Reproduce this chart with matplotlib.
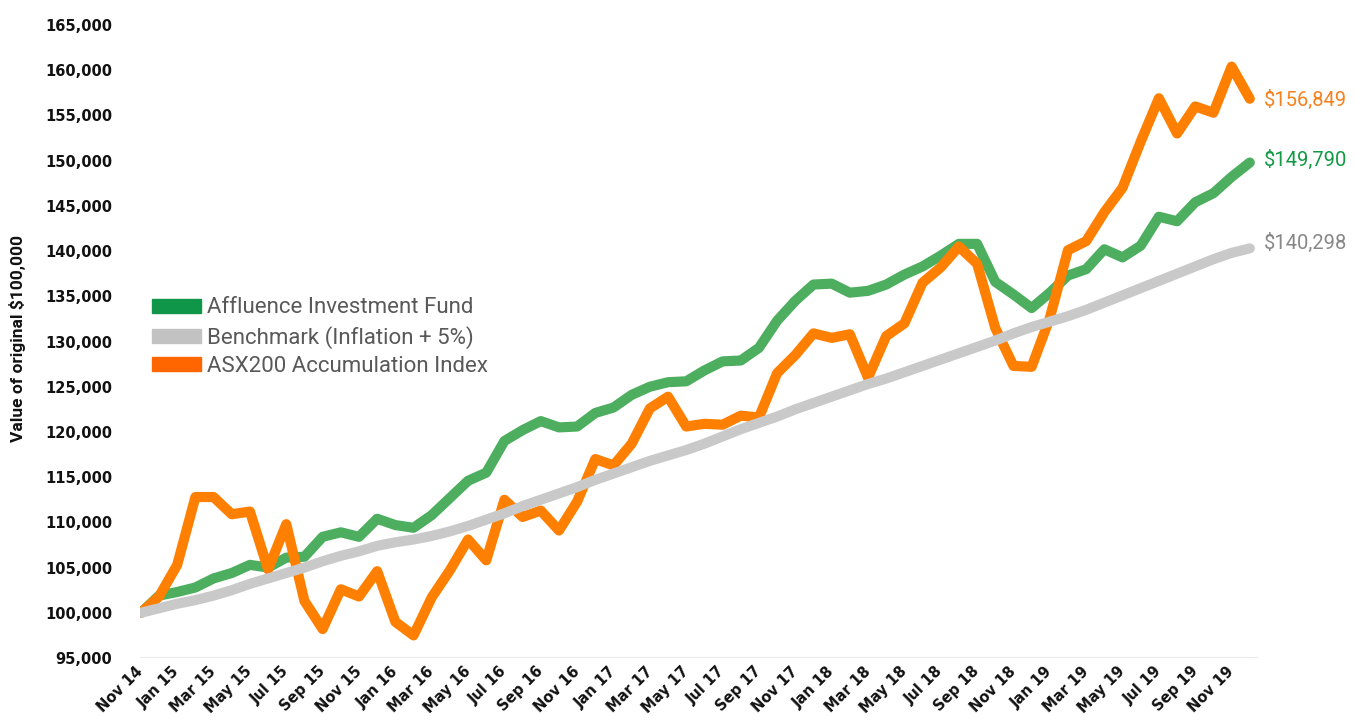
#!/usr/bin/env python3
"""
Growth of $100,000: Affluence Investment Fund vs benchmark vs ASX200
Monthly values, Nov 2014 - Dec 2019
"""

import matplotlib
matplotlib.use("Agg")
import matplotlib.patches as mpatches
import matplotlib.pyplot as plt
from matplotlib.ticker import FuncFormatter

# -- Data (one value per month from Nov 14)

AFFLUENCE = [
    100000, 101900, 102300, 102800, 103800, 104400, 105300, 105000, 106100, 106200,
    108400, 108900, 108400, 110400, 109700, 109400, 110800, 112700, 114600, 115500,
    119000, 120200, 121200, 120500, 120600, 122100, 122700, 124100, 125000, 125500,
    125600, 126800, 127800, 127900, 129300, 132300, 134500, 136300, 136400, 135400,
    135600, 136300, 137400, 138300, 139500, 140800, 140800, 136600, 135200, 133700,
    135400, 137300, 138000, 140200, 139300, 140600, 143800, 143300, 145400, 146400,
    148200, 149790,
]

BENCHMARK = [
    100000, 100500, 101000, 101400, 101900, 102500, 103200, 103800, 104400, 105000,
    105700, 106300, 106800, 107400, 107800, 108100, 108500, 109000, 109600, 110300,
    111000, 111800, 112500, 113200, 113900, 114700, 115400, 116100, 116800, 117400,
    118000, 118700, 119500, 120300, 121000, 121700, 122500, 123200, 123900, 124600,
    125300, 125900, 126600, 127300, 128000, 128700, 129400, 130100, 130900, 131600,
    132200, 132800, 133500, 134300, 135100, 135900, 136700, 137500, 138300, 139100,
    139800, 140298,
]

ASX200 = [
    100000, 101800, 105300, 112800, 112800, 110900, 111200, 104800, 109800, 101300,
    98200, 102600, 101800, 104600, 99000, 97500, 101700, 104700, 108100, 105800,
    112500, 110600, 111300, 109100, 112300, 117000, 116300, 118700, 122600, 123900,
    120600, 120900, 120800, 121800, 121600, 126500, 128500, 130900, 130400, 130800,
    126000, 130600, 132000, 136500, 138200, 140500, 138600, 131500, 127300, 127200,
    132600, 140100, 141100, 144300, 147000, 152100, 156900, 153000, 156000, 155300,
    160400, 156849,
]

TICK_LABELS = [
    "Nov 14", "Jan 15", "Mar 15", "May 15", "Jul 15", "Sep 15", "Nov 15",
    "Jan 16", "Mar 16", "May 16", "Jul 16", "Sep 16", "Nov 16",
    "Jan 17", "Mar 17", "May 17", "Jul 17", "Sep 17", "Nov 17",
    "Jan 18", "Mar 18", "May 18", "Jul 18", "Sep 18", "Nov 18",
    "Jan 19", "Mar 19", "May 19", "Jul 19", "Sep 19", "Nov 19",
]

SERIES_NAMES = [
    "Affluence Investment Fund",
    "Benchmark (Inflation + 5%)",
    "ASX200 Accumulation Index",
]

# -- Colours

GREEN_LINE = "#4cae5e"
GREY_LINE = "#c9c9c9"
ORANGE_LINE = "#ff7f00"
GREEN_KEY = "#109648"
GREY_KEY = "#c2c2c2"
ORANGE_KEY = "#ff6600"
GREEN_TEXT = "#129a45"
GREY_TEXT = "#878787"
ORANGE_TEXT = "#f7811e"


def main():
    months = list(range(len(AFFLUENCE)))

    fig = plt.figure(figsize=(13.56, 7.27), dpi=100)
    ax = fig.add_axes([0.1032, 0.0949, 0.8245, 0.8707])

    lw = 7.3
    ax.plot(months, AFFLUENCE, color=GREEN_LINE, lw=lw,
            solid_capstyle="round", solid_joinstyle="round", zorder=2)
    ax.plot(months, ASX200, color=ORANGE_LINE, lw=lw,
            solid_capstyle="round", solid_joinstyle="round", zorder=3)
    ax.plot(months, BENCHMARK, color=GREY_LINE, lw=lw,
            solid_capstyle="round", solid_joinstyle="round", zorder=4)

    ax.set_ylim(95000, 165000)
    ax.set_xlim(-0.05, 61.45)
    ax.set_yticks(range(95000, 165001, 5000))
    ax.yaxis.set_major_formatter(FuncFormatter(lambda v, _: f"{v:,.0f}"))
    ax.set_xticks(months[::2])
    ax.set_xticklabels(TICK_LABELS)

    for s in ax.spines.values():
        s.set_visible(False)
    ax.axhline(95000, color="#e3e8ee", lw=2, zorder=1)

    ax.tick_params(axis="y", length=0, pad=20, labelsize=10.5,
                   labelcolor="#111111")
    ax.tick_params(axis="x", length=0, pad=8, labelsize=10.5,
                   labelcolor="#111111")
    for t in ax.get_yticklabels():
        t.set_fontweight("bold")
    for t in ax.get_xticklabels():
        t.set_fontweight("bold")
        t.set_rotation(45)
        t.set_ha("right")
        t.set_va("center")
        t.set_rotation_mode("anchor")

    fig.text(0.013, 0.535, "Value of original $100,000", rotation=90,
             ha="center", va="center", fontsize=12.5, fontweight="bold",
             family="Roboto", color="#111111")

    # -- end-of-series value labels
    last = months[-1]
    end_labels = [
        (ASX200[-1], ORANGE_TEXT, -1),
        (AFFLUENCE[-1], GREEN_TEXT, 2),
        (BENCHMARK[-1], GREY_TEXT, 4),
    ]
    for val, col, dy in end_labels:
        ax.annotate(f"${val:,.0f}", xy=(last, val), xytext=(10, dy),
                    textcoords="offset points", ha="left", va="center",
                    fontsize=14.5, family="Roboto", color=col,
                    annotation_clip=False)

    # -- legend
    handles = [
        mpatches.Patch(color=GREEN_KEY, label=SERIES_NAMES[0]),
        mpatches.Patch(color=GREY_KEY, label=SERIES_NAMES[1]),
        mpatches.Patch(color=ORANGE_KEY, label=SERIES_NAMES[2]),
    ]
    leg = ax.legend(handles=handles, loc="center left",
                    bbox_to_anchor=(-0.003, 0.507), frameon=False,
                    prop={"family": "Roboto", "size": 16},
                    handlelength=2.2, handleheight=0.6,
                    handletextpad=0.25, labelspacing=0.32,
                    borderpad=0.2)
    for txt in leg.get_texts():
        txt.set_color("#595959")

    fig.savefig("out.png", dpi=100)


if __name__ == "__main__":
    main()
